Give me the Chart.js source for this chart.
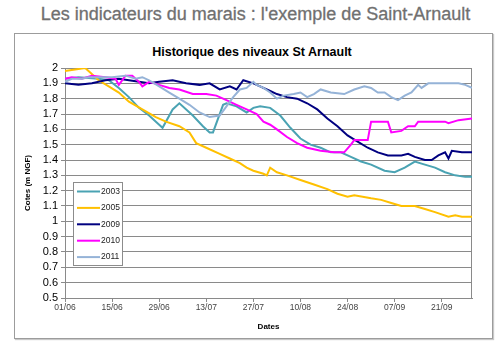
<!DOCTYPE html>
<html lang="fr">
<head>
    <meta charset="UTF-8">
    <title>Historique des niveaux St Arnault</title>
    <script src="https://cdn.jsdelivr.net/npm/chart.js"></script>
    <style>
        body {
            margin: 0;
            width: 499px;
            height: 345px;
            overflow: hidden;
            background: #fff;
            position: relative;
            font-family: "Liberation Sans", Arial, sans-serif;
        }
        #pageTitle {
            position: absolute;
            left: 0;
            top: 3px;
            width: 511px;
            text-align: center;
            font-size: 18px;
            line-height: 22px;
            color: #707070;
            white-space: nowrap;
            -webkit-text-stroke: 0.3px #707070;
        }
        #frame {
            position: absolute;
            left: 14px;
            top: 33px;
            width: 477px;
            height: 304px;
            border: 1px solid #9c9c9c;
            box-shadow: 1px 1px 1px #c8c8c8;
        }
        #chartTitle {
            position: absolute;
            left: 0;
            top: 45px;
            width: 504px;
            text-align: center;
            font-size: 12.5px;
            line-height: 15px;
            font-weight: bold;
            color: #000;
            white-space: nowrap;
        }
        #levels {
            position: absolute;
            left: 0;
            top: 0;
        }
    </style>
</head>
<body>
    <div id="pageTitle">Les indicateurs du marais : l'exemple de Saint-Arnault</div>
    <div id="frame"></div>
    <div id="chartTitle">Historique des niveaux St Arnault</div>
    <canvas id="levels" width="499" height="345"></canvas>

    <script>
        // x axis = days since 01/06
        const tickDays = [0, 14, 28, 42, 56, 70, 84, 98, 112];
        const tickLabels = ['01/06', '15/06', '29/06', '13/07', '27/07', '10/08', '24/08', '07/09', '21/09'];

        const years = ['2003', '2005', '2009', '2010', '2011'];
        const colors = ['#4aa3b3', '#ffc000', '#000080', '#ff00ff', '#95b3d7'];

        const days2003 = [0, 4, 10, 13, 16, 19, 22, 25, 28, 29, 32, 34, 38, 41, 43, 44, 47, 48, 51, 54, 56, 58, 61, 64, 67, 70, 73, 76, 79, 82, 85, 88, 91, 95, 98, 101, 104, 107, 110, 113, 116, 119, 121];
        const lvl2003 = [1.93, 1.94, 1.93, 1.92, 1.87, 1.81, 1.74, 1.69, 1.63, 1.61, 1.73, 1.77, 1.69, 1.62, 1.58, 1.58, 1.76, 1.77, 1.75, 1.71, 1.74, 1.75, 1.74, 1.69, 1.61, 1.54, 1.50, 1.48, 1.45, 1.45, 1.42, 1.39, 1.37, 1.33, 1.32, 1.35, 1.39, 1.37, 1.35, 1.32, 1.30, 1.29, 1.29];

        const days2005 = [0, 3, 6, 7, 10, 13, 16, 19, 23, 27, 30, 34, 37, 39, 42, 46, 49, 52, 54, 56, 59, 60, 61, 63, 66, 70, 74, 78, 81, 84, 86, 91, 94, 97, 100, 104, 107, 110, 114, 116, 118, 121];
        const lvl2005 = [1.98, 1.99, 2.00, 1.98, 1.92, 1.88, 1.84, 1.78, 1.73, 1.68, 1.65, 1.62, 1.58, 1.51, 1.48, 1.44, 1.41, 1.38, 1.35, 1.33, 1.31, 1.30, 1.35, 1.32, 1.30, 1.27, 1.24, 1.21, 1.18, 1.16, 1.17, 1.15, 1.14, 1.12, 1.10, 1.10, 1.08, 1.06, 1.03, 1.04, 1.03, 1.03];

        const days2009 = [0, 4, 8, 12, 16, 19, 22, 25, 28, 32, 36, 40, 43, 46, 49, 51, 53, 56, 58, 61, 63, 66, 69, 72, 75, 78, 81, 84, 87, 90, 93, 96, 100, 102, 104, 107, 109, 111, 113, 114, 115, 118, 121];
        const lvl2009 = [1.90, 1.89, 1.90, 1.92, 1.93, 1.92, 1.91, 1.90, 1.91, 1.92, 1.90, 1.89, 1.90, 1.86, 1.88, 1.86, 1.92, 1.90, 1.88, 1.85, 1.83, 1.81, 1.80, 1.77, 1.73, 1.67, 1.62, 1.56, 1.52, 1.48, 1.45, 1.43, 1.43, 1.44, 1.42, 1.40, 1.40, 1.43, 1.45, 1.41, 1.46, 1.45, 1.45];

        const days2010 = [0, 2, 5, 8, 12, 15, 16, 18, 20, 22, 23, 25, 28, 31, 34, 38, 42, 45, 48, 51, 54, 57, 59, 61, 63, 66, 69, 72, 76, 80, 83, 85, 86, 90, 91, 96, 97, 100, 102, 104, 105, 113, 114, 117, 121];
        const lvl2010 = [1.93, 1.94, 1.93, 1.95, 1.94, 1.93, 1.89, 1.95, 1.95, 1.91, 1.88, 1.91, 1.89, 1.87, 1.86, 1.83, 1.83, 1.82, 1.79, 1.76, 1.73, 1.70, 1.65, 1.63, 1.60, 1.55, 1.51, 1.48, 1.46, 1.45, 1.45, 1.50, 1.53, 1.53, 1.65, 1.65, 1.58, 1.59, 1.62, 1.62, 1.65, 1.65, 1.64, 1.66, 1.67];

        const days2011 = [0, 2, 5, 7, 11, 14, 18, 21, 23, 25, 28, 31, 34, 37, 40, 43, 46, 48, 50, 52, 54, 56, 57, 59, 61, 63, 65, 68, 70, 72, 74, 76, 79, 83, 86, 89, 91, 93, 95, 97, 99, 101, 103, 105, 106, 108, 113, 117, 119, 121];
        const lvl2011 = [1.91, 1.93, 1.93, 1.94, 1.94, 1.94, 1.95, 1.93, 1.94, 1.92, 1.88, 1.84, 1.80, 1.76, 1.71, 1.68, 1.69, 1.75, 1.81, 1.86, 1.87, 1.91, 1.89, 1.87, 1.84, 1.80, 1.82, 1.83, 1.84, 1.81, 1.83, 1.86, 1.84, 1.83, 1.86, 1.88, 1.87, 1.84, 1.84, 1.81, 1.79, 1.82, 1.84, 1.89, 1.87, 1.90, 1.90, 1.90, 1.89, 1.87];

        const series = [
            [days2003, lvl2003],
            [days2005, lvl2005],
            [days2009, lvl2009],
            [days2010, lvl2010],
            [days2011, lvl2011]
        ];

        const gridColor = '#8a8a8a';

        // plot frame + legend box drawn inside the plot area
        const boxLegend = {
            id: 'boxLegend',
            beforeDatasetsDraw(chart) {
                const a = chart.chartArea;
                const ctx = chart.ctx;
                ctx.save();
                ctx.strokeStyle = gridColor;
                ctx.lineWidth = 1;
                ctx.strokeRect(a.left + 0.5, a.top + 0.5, a.right - a.left - 1, a.bottom - a.top);
                ctx.restore();
            },
            afterDatasetsDraw(chart) {
                const a = chart.chartArea;
                const ctx = chart.ctx;
                const x = a.left + 8, y = a.top + 114, w = 49, h = 83;
                ctx.save();
                ctx.fillStyle = '#fff';
                ctx.fillRect(x, y, w, h);
                ctx.strokeStyle = '#8c8c8c';
                ctx.lineWidth = 1;
                ctx.strokeRect(x + 0.5, y + 0.5, w, h);
                ctx.font = '8.5px "Liberation Sans", Arial, sans-serif';
                ctx.textBaseline = 'middle';
                chart.data.datasets.forEach((ds, i) => {
                    const ly = y + 9.5 + i * 16.4;
                    ctx.strokeStyle = ds.borderColor;
                    ctx.lineWidth = 2;
                    ctx.beginPath();
                    ctx.moveTo(x + 4, ly);
                    ctx.lineTo(x + 27, ly);
                    ctx.stroke();
                    ctx.fillStyle = '#222';
                    ctx.fillText(ds.label, x + 28, ly);
                });
                ctx.restore();
            }
        };

        new Chart(document.getElementById('levels'), {
            type: 'line',
            data: {
                datasets: years.map((year, i) => ({
                    label: year,
                    data: series[i][0].map((d, k) => ({ x: d, y: series[i][1][k] })),
                    borderColor: colors[i],
                    backgroundColor: colors[i],
                    borderWidth: 2,
                    pointRadius: 0,
                    tension: 0,
                    fill: false,
                    order: years.length - i
                }))
            },
            options: {
                responsive: false,
                animation: false,
                devicePixelRatio: 1,
                layout: {
                    padding: { left: 0, top: 68, right: 27, bottom: 7 }
                },
                plugins: {
                    legend: { display: false },
                    tooltip: { enabled: false }
                },
                scales: {
                    x: {
                        type: 'linear',
                        min: 0,
                        max: 121,
                        afterBuildTicks: axis => {
                            axis.ticks = tickDays.map(v => ({ value: v }));
                        },
                        afterFit: axis => {
                            axis.height = 40;
                        },
                        ticks: {
                            autoSkip: false,
                            maxRotation: 0,
                            padding: 1,
                            color: '#444',
                            font: { family: '"Liberation Sans", Arial, sans-serif', size: 8.5 },
                            callback: v => tickLabels[tickDays.indexOf(v)]
                        },
                        grid: {
                            drawOnChartArea: false,
                            drawTicks: true,
                            tickLength: 4,
                            color: gridColor
                        },
                        border: { display: true, color: gridColor },
                        title: {
                            display: true,
                            text: 'Dates',
                            color: '#000',
                            font: { family: '"Liberation Sans", Arial, sans-serif', size: 8, weight: 'bold' },
                            padding: { top: 0, bottom: 6 }
                        }
                    },
                    y: {
                        min: 0.5,
                        max: 2,
                        afterFit: axis => {
                            axis.width = 65;
                        },
                        ticks: {
                            stepSize: 0.1,
                            autoSkip: false,
                            padding: 3,
                            color: '#000',
                            font: { family: '"Liberation Sans", Arial, sans-serif', size: 11 },
                            callback: v => String(Math.round(v * 10) / 10)
                        },
                        grid: {
                            color: gridColor,
                            tickLength: 4
                        },
                        border: { display: true, color: gridColor },
                        title: {
                            display: true,
                            text: 'Cotes (m NGF)',
                            color: '#000',
                            font: { family: '"Liberation Sans", Arial, sans-serif', size: 8, weight: 'bold' },
                            padding: { top: 23, bottom: 0 }
                        }
                    }
                }
            },
            plugins: [boxLegend]
        });
    </script>
</body>
</html>
